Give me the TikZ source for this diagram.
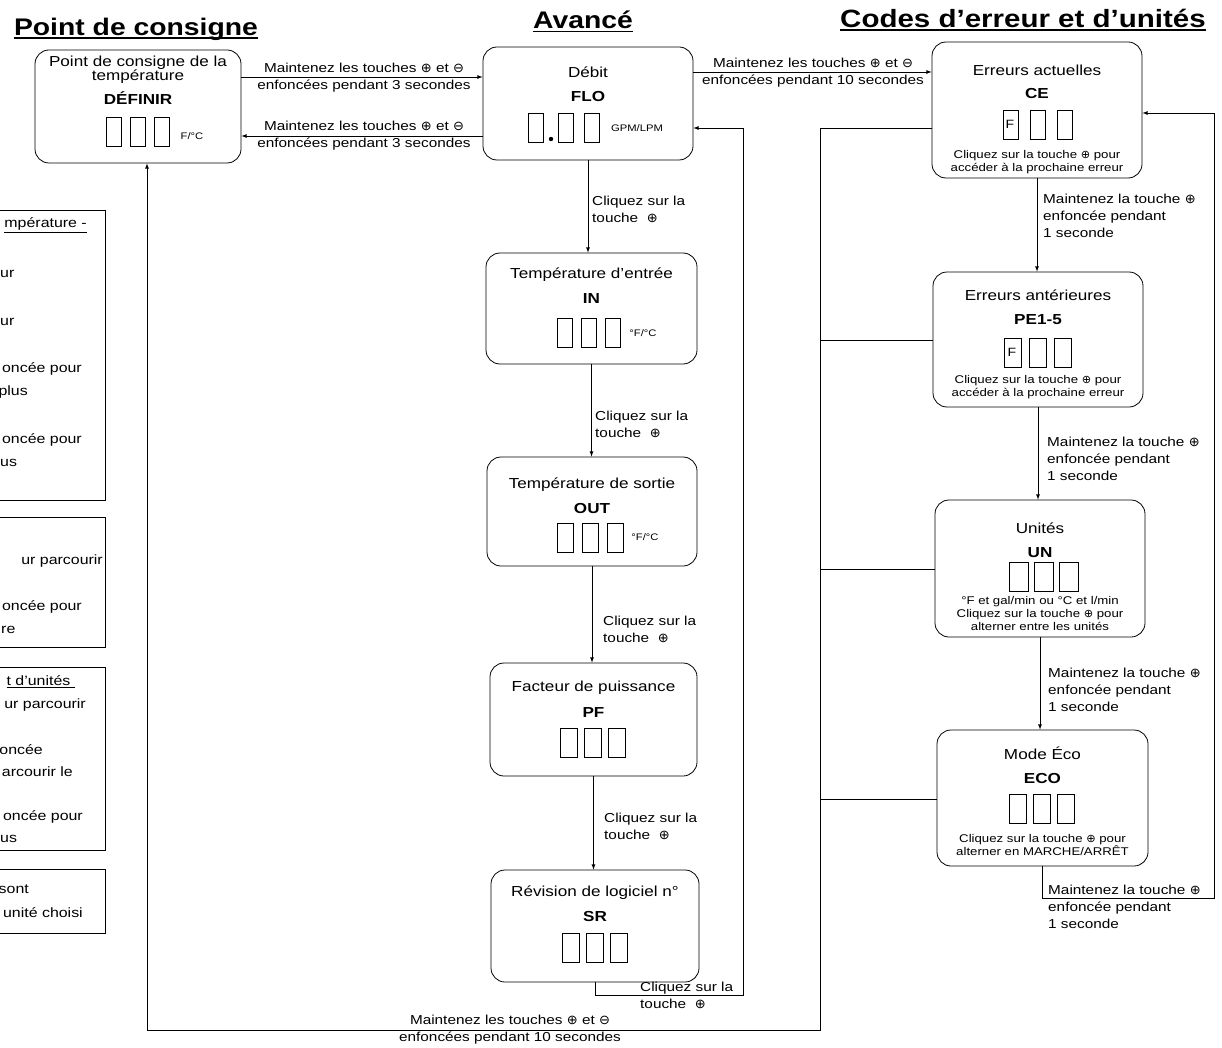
\documentclass[tikz,border=0pt]{standalone}
\usepackage{fontspec}
\setmainfont{Liberation Sans}[FakeStretch=1.18]
\newfontfamily\symboles{DejaVu Sans}
\usetikzlibrary{arrows}
\usetikzlibrary{positioning}
\usetikzlibrary{calc}

% key symbols
\newcommand{\tplus}{{\symboles ⊕}}
\newcommand{\tmoins}{{\symboles ⊖}}

% three empty segments of a display: left x, top y, width, gap
\newcommand{\afficheur}[4]{%
  \foreach \k in {0,1,2}{\draw[line width=0.6pt] ({#1+\k*(#3+#4)},#2) rectangle ++(#3,29);}}

\tikzset{
  etat/.style={draw, rounded corners=14pt, line width=0.8pt, inner sep=0pt},
  titre/.style={font=\fontsize{14.5}{14}\selectfont, inner sep=0pt, align=center},
  code/.style={font=\fontsize{14.5}{17}\selectfont\bfseries, inner sep=0pt},
  aide/.style={font=\fontsize{11.2}{13}\selectfont, align=center, inner sep=0pt},
  unite/.style={font=\fontsize{9.5}{11}\selectfont, inner sep=0pt},
  lien/.style={font=\fontsize{13}{17}\selectfont, align=left, inner sep=0pt},
  entete/.style={font=\fontsize{24}{28}\selectfont\bfseries, inner sep=0pt},
  legende/.style={font=\fontsize{13.5}{23}\selectfont, inner sep=0pt, anchor=east},
  fleche/.style={-latex, line width=0.8pt},
  trait/.style={line width=0.8pt},
}

\begin{document}
\begin{tikzpicture}[x=1pt, y=-1pt]
  \clip (0,0) rectangle (1222,1048);

  % headings
  \node[entete] (h1) at (136,29) {Point de consigne};
  \node[entete] (h2) at (583,20) {Avancé};
  \node[entete, font=\fontsize{25}{28}\selectfont\bfseries] (h3) at (1023,18) {Codes d'erreur et d’unités};
  \foreach \h in {h1,h2,h3}
    \draw[line width=1.6pt] ([yshift=-3pt]\h.base west) -- ([yshift=-3pt]\h.base east);

  % key panels, cut at the left edge
  \draw[trait] (-20,210) rectangle (105,500);
  \draw[trait] (-20,517) rectangle (105,647);
  \draw[trait] (-20,667) rectangle (105,850);
  \draw[trait] (-20,869) rectangle (105,933);
  \node[legende] (g1) at (87,225) {\underline{mpérature -}};
  \node[legende, anchor=west] (g2) at (0,274) {ur};
  \node[legende, anchor=west] (g3) at (0,322) {ur};
  \node[legende] (g4) at (82,369) {oncée pour};
  \node[legende] (g5) at (28,392) {plus};
  \node[legende] (g6) at (82,440) {oncée pour};
  \node[legende, anchor=west] (g7) at (0,463) {us};
  \node[legende] (g8) at (103,561) {ur parcourir};
  \node[legende] (g9) at (82,607) {oncée pour};
  \node[legende, anchor=west] (g10) at (1,630) {re};
  \node[legende] (g11) at (75,682) {\underline{t d'unités\ }};
  \node[legende] (g12) at (86,705) {ur parcourir};
  \node[legende] (g13) at (43,750) {oncée};
  \node[legende] (g14) at (73,772) {arcourir le};
  \node[legende] (g15) at (83,817) {oncée pour};
  \node[legende, anchor=west] (g16) at (0,839) {us};
  \node[legende] (g17) at (29,889) {sont};
  \node[legende] (g18) at (83,913) {unité choisi};

  % setpoint
  \node[etat, minimum width=206pt, minimum height=113pt] (sp) at (138,106.5) {};
  \node[titre] (sp-t) at (138,70) {Point de consigne de la\\température};
  \node[code] (sp-c) at (138,98) {DÉFINIR};
  \afficheur{106}{117}{15}{9}
  \node[unite] (sp-u) at (192,136) {F/°C};

  % advanced menu
  \node[etat, minimum width=210pt, minimum height=113pt] (flo) at (588,103.5) {};
  \node[titre] (flo-t) at (588,72) {Débit};
  \node[code] (flo-c) at (588,97) {FLO};
  \foreach \x in {528,558,584} \draw[line width=0.6pt] (\x,113) rectangle ++(15,29);
  \fill (551,139) circle (2.2pt);
  \node[unite] (flo-u) at (637,128) {GPM/LPM};

  \node[etat, minimum width=211pt, minimum height=111pt] (in) at (591.5,308.5) {};
  \node[titre] (in-t) at (591.5,275) {Température d'entrée};
  \node[code] (in-c) at (591.5,299) {IN};
  \afficheur{557}{318}{15}{9}
  \node[unite] (in-u) at (643,333) {°F/°C};

  \node[etat, minimum width=210pt, minimum height=109pt] (out) at (592,511.5) {};
  \node[titre] (out-t) at (592,485) {Température de sortie};
  \node[code] (out-c) at (592,509) {OUT};
  \afficheur{557}{523}{16}{9}
  \node[unite] (out-u) at (645,537) {°F/°C};

  \node[etat, minimum width=207pt, minimum height=113pt] (pf) at (593.5,719.5) {};
  \node[titre] (pf-t) at (593.5,688) {Facteur de puissance};
  \node[code] (pf-c) at (593.5,713) {PF};
  \afficheur{560}{728}{17}{7}

  \node[etat, minimum width=208pt, minimum height=112pt] (sr) at (595,926) {};
  \node[titre] (sr-t) at (595,893) {Révision de logiciel n°};
  \node[code] (sr-c) at (595,916) {SR};
  \afficheur{562}{933}{17}{7}

  % error codes and units
  \node[etat, minimum width=210pt, minimum height=136pt] (ce) at (1037,110) {};
  \node[titre] (ce-t) at (1037,70) {Erreurs actuelles};
  \node[code] (ce-c) at (1037,94) {CE};
  \afficheur{1003}{110}{15}{12}
  \node[unite, font=\fontsize{12}{12}\selectfont] (ce-f) at (1010,124) {F};
  \node[aide] (ce-a) at (1037,162) {Cliquez sur la touche \tplus{} pour\\accéder à la prochaine erreur};

  \node[etat, minimum width=210pt, minimum height=135pt] (pe) at (1038,339.5) {};
  \node[titre] (pe-t) at (1038,295) {Erreurs antérieures};
  \node[code] (pe-c) at (1038,320) {PE1-5};
  \afficheur{1004}{338}{17}{8}
  \node[unite, font=\fontsize{12}{12}\selectfont] (pe-f) at (1012,352) {F};
  \node[aide] (pe-a) at (1038,387) {Cliquez sur la touche \tplus{} pour\\accéder à la prochaine erreur};

  \node[etat, minimum width=210pt, minimum height=137pt] (un) at (1040,568.5) {};
  \node[titre] (un-t) at (1040,528) {Unités};
  \node[code] (un-c) at (1040,553) {UN};
  \afficheur{1009}{562}{19}{6}
  \node[aide] (un-a) at (1040,613) {°F et gal/min ou °C et l/min\\Cliquez sur la touche \tplus{} pour\\alterner entre les unités};

  \node[etat, minimum width=211pt, minimum height=136pt] (eco) at (1042.5,798) {};
  \node[titre] (eco-t) at (1042.5,753) {Mode Éco};
  \node[code] (eco-c) at (1042.5,779) {ECO};
  \afficheur{1009}{794}{17}{7}
  \node[aide] (eco-a) at (1042.5,845) {Cliquez sur la touche \tplus{} pour\\alterner en MARCHE/ARRÊT};

  % setpoint <-> advanced
  \draw[fleche] (sp.east |- 0,77) -- (flo.west |- 0,77);
  \node[lien, align=center] (l-sp1) at (364,78) {Maintenez les touches \tplus{} et \tmoins\\enfoncées pendant 3 secondes};
  \draw[fleche] (flo.west |- 0,136) -- (sp.east |- 0,136);
  \node[lien, align=center] (l-sp2) at (364,136) {Maintenez les touches \tplus{} et \tmoins\\enfoncées pendant 3 secondes};

  % advanced -> error codes
  \draw[fleche] (flo.east |- 0,72) -- (ce.west |- 0,72);
  \node[lien, align=center] (l-ce) at (813,73) {Maintenez les touches \tplus{} et \tmoins\\enfoncées pendant 10 secondes};

  % advanced chain
  \draw[fleche] (flo.south) -- (flo.south |- in.north);
  \node[lien, anchor=west] (l-in) at (592,209) {Cliquez sur la\\touche \ \tplus};
  \draw[fleche] (in.south) -- (in.south |- out.north);
  \node[lien, anchor=west] (l-out) at (595,424) {Cliquez sur la\\touche \ \tplus};
  \draw[fleche] (out.south) -- (out.south |- pf.north);
  \node[lien, anchor=west] (l-pf) at (603,629) {Cliquez sur la\\touche \ \tplus};
  \draw[fleche] (pf.south) -- (pf.south |- sr.north);
  \node[lien, anchor=west] (l-sr) at (604,826) {Cliquez sur la\\touche \ \tplus};
  \draw[fleche] (sr.south) -- ++(0,13) -| (743,128) -- (flo.east |- 0,128);
  \node[lien, anchor=west] (l-flo) at (640,995) {Cliquez sur la\\touche \ \tplus};

  % error chain
  \draw[fleche] (ce.south) -- (ce.south |- pe.north);
  \node[lien, anchor=west] (l-pe) at (1043,216) {Maintenez la touche \tplus\\enfoncée pendant\\1 seconde};
  \draw[fleche] (pe.south) -- (pe.south |- un.north);
  \node[lien, anchor=west] (l-un) at (1047,459) {Maintenez la touche \tplus\\enfoncée pendant\\1 seconde};
  \draw[fleche] (un.south) -- (un.south |- eco.north);
  \node[lien, anchor=west] (l-eco) at (1048,690) {Maintenez la touche \tplus\\enfoncée pendant\\1 seconde};
  \draw[fleche] (eco.south) -- ++(0,32) -| (1214,113) -- (ce.east |- 0,113);
  \node[lien, anchor=west] (l-ce2) at (1048,907) {Maintenez la touche \tplus\\enfoncée pendant\\1 seconde};

  % back to the setpoint from any error screen
  \draw[fleche] (ce.west |- 0,128) -| (820,1030) -| (sp.south -| 147,0);
  \foreach \n/\y in {pe/340, un/569, eco/799}
    \draw[trait] (820,\y) -- (\n.west |- 0,\y);
  \node[lien, align=center] (l-sp3) at (510,1030) {Maintenez les touches \tplus{} et \tmoins\\enfoncées pendant 10 secondes};
\end{tikzpicture}
\end{document}
